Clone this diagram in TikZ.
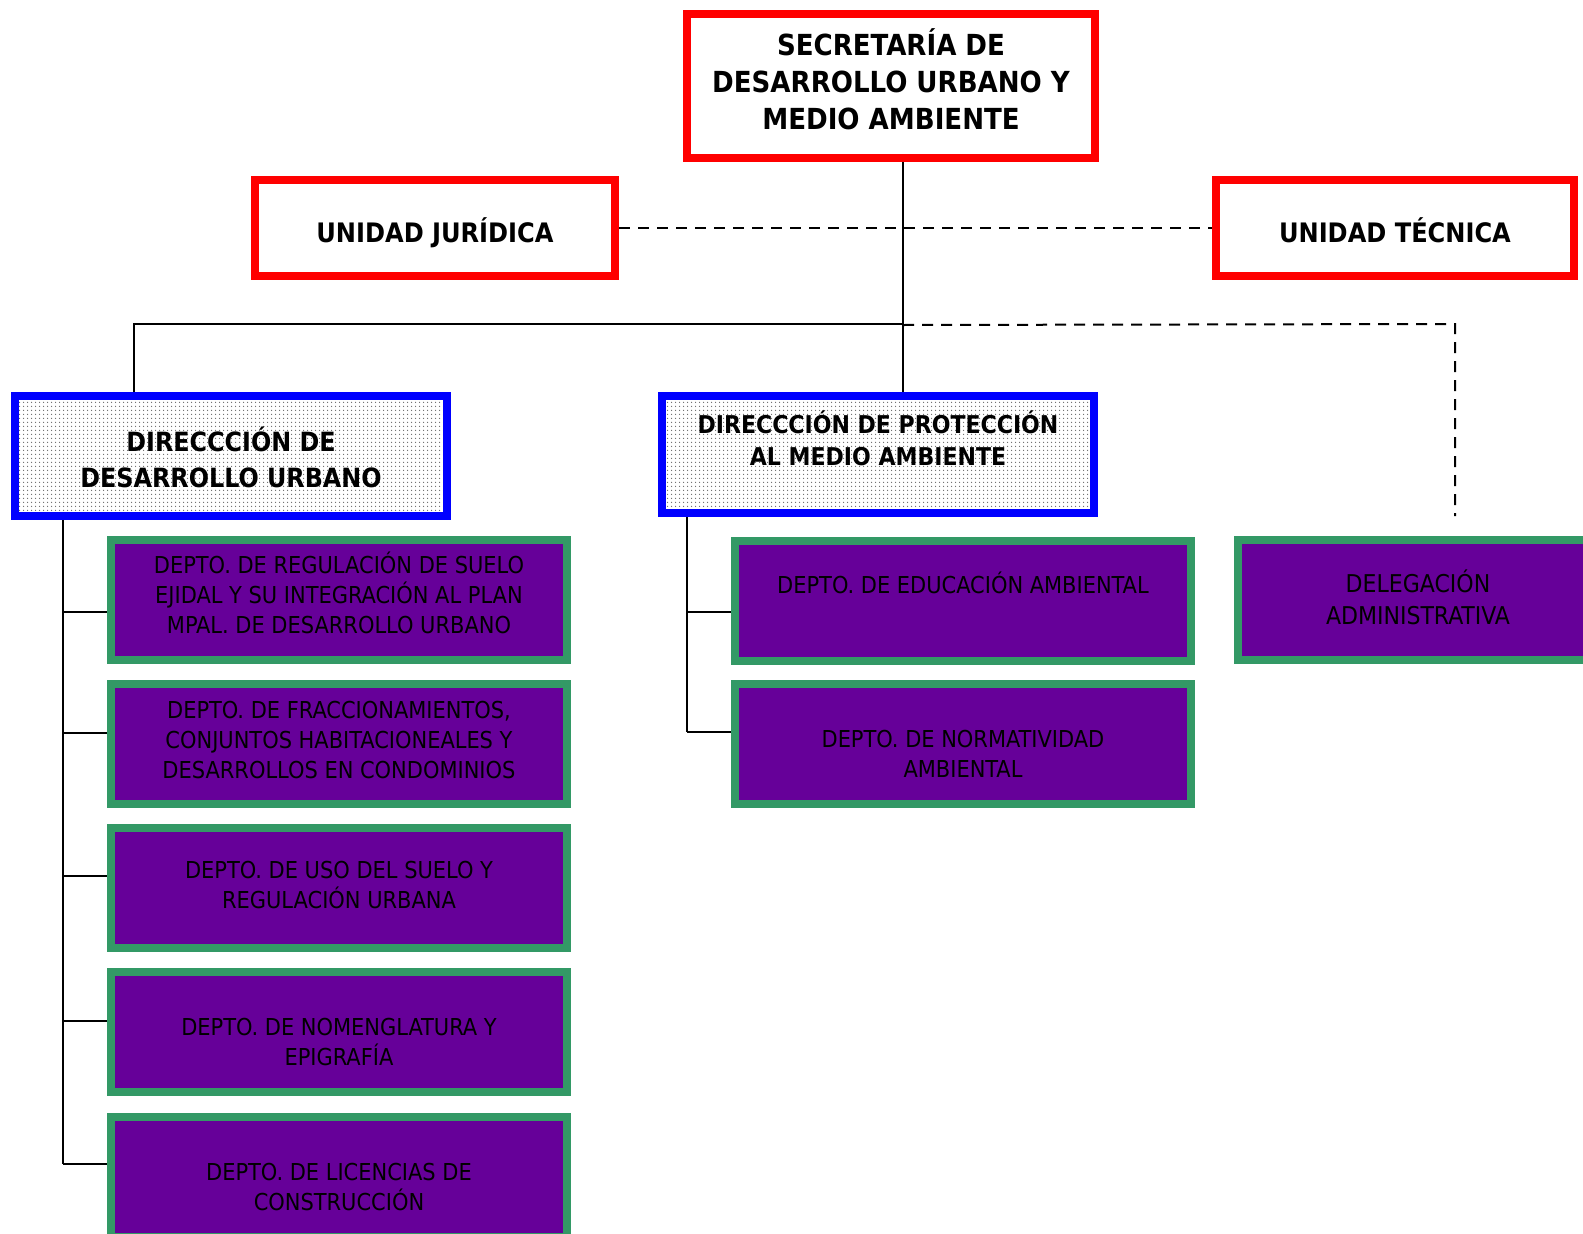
\documentclass[tikz,border=0pt]{standalone}
\usepackage{fontspec}
\setmainfont{DejaVu Sans Condensed}
\usetikzlibrary{patterns.meta}
\definecolor{redb}{HTML}{FF0000}
\definecolor{blueb}{HTML}{0000FF}
\definecolor{greenb}{HTML}{339966}
\definecolor{purplef}{HTML}{660099}
\tikzset{
  box/.style={draw, line width=8pt, inner sep=0pt, anchor=center},
  redbox/.style={box, draw=redb, fill=white},
  bluebox/.style={box, draw=blueb, preaction={fill=white},
    pattern={Dots[distance=4pt, radius=0.8pt]}, pattern color=black!60,
    minimum width=432pt},
  deptbox/.style={box, draw=greenb, fill=purplef, minimum width=456pt, minimum height=120pt},
  boldtext/.style={inner sep=0pt, align=center, font=\bfseries\fontsize{27}{37}\selectfont},
  depttext/.style={inner sep=0pt, align=center, font=\fontsize{23.3}{30}\selectfont},
  conn/.style={line width=2pt, black},
  dconn/.style={line width=2pt, black, dash pattern=on 11pt off 8pt}
}
\begin{document}
\begin{tikzpicture}[x=1pt, y=-1pt]
\useasboundingbox (0,0) rectangle (1583,1234);
\fill[white] (0,0) rectangle (1583,1234);
\begin{scope}
\clip (0,0) rectangle (1583,1234);
% top
\node[redbox, minimum width=408pt, minimum height=144pt] (sec) at (891,86) {};
\node[boldtext, font=\bfseries\fontsize{29}{37}\selectfont] (tsec) at ([yshift=7pt]sec.center) {SECRETARÍA DE\\DESARROLLO URBANO Y\\MEDIO AMBIENTE};
\node[redbox, minimum width=360pt, minimum height=96pt] (uj) at (435,228) {};
\node[boldtext, font=\bfseries\fontsize{26.8}{36}\selectfont] (tuj) at ([yshift=-5pt]uj.center) {UNIDAD JURÍDICA};
\node[redbox, minimum width=358pt, minimum height=96pt] (ut) at (1395,228) {};
\node[boldtext, font=\bfseries\fontsize{26.8}{36}\selectfont] (tut) at ([yshift=-2pt]ut.center) {UNIDAD TÉCNICA};
% directions
\node[bluebox, minimum height=120pt] (ddu) at (231,456) {};
\node[boldtext, font=\bfseries\fontsize{26.5}{36}\selectfont] (tddu) at ([yshift=-1pt]ddu.center) {DIRECCCIÓN DE\\DESARROLLO URBANO};
\node[bluebox, minimum height=117pt] (dpma) at (878,454.5) {};
\node[boldtext, font=\bfseries\fontsize{24.5}{32}\selectfont] (tdpma) at ([yshift=16pt]dpma.center) {DIRECCCIÓN DE PROTECCIÓN\\AL MEDIO AMBIENTE};
% left departments
\node[deptbox] (d1) at (339,600) {};
\node[depttext] (t1) at ([yshift=7pt]d1.center) {DEPTO. DE REGULACIÓN DE SUELO\\EJIDAL Y SU INTEGRACIÓN AL PLAN\\MPAL. DE DESARROLLO URBANO};
\node[deptbox] (d2) at (339,744) {};
\node[depttext] (t2) at ([yshift=4pt]d2.center) {DEPTO. DE FRACCIONAMIENTOS,\\CONJUNTOS HABITACIONEALES Y\\DESARROLLOS EN CONDOMINIOS};
\node[deptbox] (d3) at (339,888) {};
\node[depttext] (t3) at ([yshift=2.5pt]d3.center) {DEPTO. DE USO DEL SUELO Y\\REGULACIÓN URBANA};
\node[deptbox] (d4) at (339,1032) {};
\node[depttext] (t4) at ([yshift=-10pt]d4.center) {DEPTO. DE NOMENGLATURA Y\\EPIGRAFÍA};
\node[deptbox] (d5) at (339,1177) {};
\node[depttext] (t5) at ([yshift=-10pt]d5.center) {DEPTO. DE LICENCIAS DE\\CONSTRUCCIÓN};
% middle departments
\node[deptbox] (m1) at (963,600.5) {};
\node[depttext] (tm1) at ([yshift=18pt]m1.center) {DEPTO. DE EDUCACIÓN AMBIENTAL};
\node[deptbox] (m2) at (963,744) {};
\node[depttext] (tm2) at ([yshift=-10pt]m2.center) {DEPTO. DE NORMATIVIDAD\\AMBIENTAL};
% delegacion
\node[deptbox, minimum width=360pt] (dl) at (1418,600) {};
\node[depttext, font=\fontsize{24.5}{32}\selectfont] (tdl) at ([yshift=2.5pt]dl.center) {DELEGACIÓN\\ADMINISTRATIVA};
\end{scope}
% coordinates
\coordinate (top) at (903,162);
\coordinate (hj) at (903,324);
\coordinate (dj) at (1455,516);
% connectors
\draw[conn] (top) -- (top |- dpma.north);
\draw[conn] (hj) -| (ddu.north -| 134,0);
\draw[dconn] (uj.east) -- (ut.west);
\draw[dconn] (903,325) -- (1455,324) -- (dj);
% left tree
\draw[conn] (63,520) -- (63,1164);
\foreach \n/\y in {d1/612, d2/733, d3/876, d4/1021, d5/1164}
  \draw[conn] (63,\y) -- (\n.west |- 0,\y);
% middle tree
\draw[conn] (687,517) -- (687,732);
\foreach \n/\y in {m1/612, m2/732}
  \draw[conn] (687,\y) -- (\n.west |- 0,\y);
\end{tikzpicture}
\end{document}
